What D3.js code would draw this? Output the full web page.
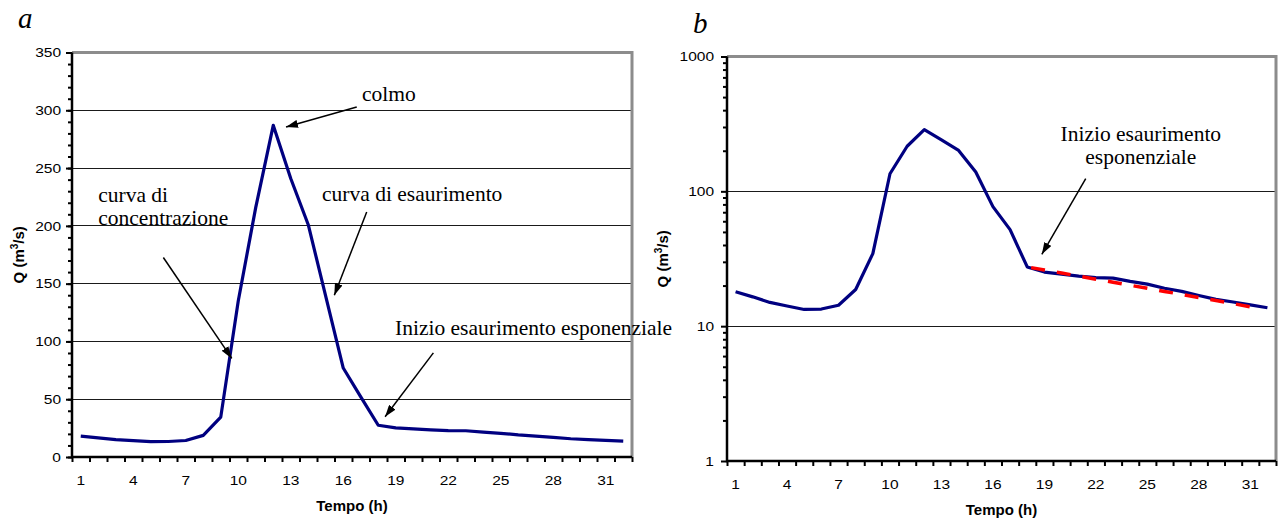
<!DOCTYPE html>
<html>
<head>
<meta charset="utf-8">
<script src="https://cdn.jsdelivr.net/npm/d3@7"></script>
<style>
  body { margin: 0; background: #fff; }
  svg { display: block; }
  .tick-label { font-family: 'Liberation Sans', Arial, sans-serif; font-size: 13.5px; fill: #000; }
  .axis-title { font-family: 'Liberation Sans', Arial, sans-serif; font-size: 15px; font-weight: bold; fill: #000; }
  .note { font-family: 'Liberation Serif', 'Times New Roman', serif; font-size: 21.5px; fill: #000; }
  .panel { font-family: 'Liberation Serif', 'Times New Roman', serif; font-size: 29px; font-style: italic; fill: #000; }
</style>
</head>
<body>
<svg id="chart" width="1279" height="518"></svg>
<script>
// hourly discharge of the flood event (m3/s)
var hours = [1, 2, 3, 4, 5, 6, 7, 8, 9, 10, 11, 12, 13, 14, 15, 16,
  17, 18, 19, 20, 21, 22, 23, 24, 25, 26, 27, 28, 29, 30, 31, 32];
var discharge = [18, 16.5, 15, 14.1, 13.3, 13.4, 14.3, 18.7, 34.5, 135, 216, 287,
  241, 201, 139, 77, 52, 27.5, 25.2, 24.3, 23.5, 22.9, 22.7, 21.5, 20.5,
  19.1, 18.1, 16.9, 15.8, 15.1, 14.4, 13.7];

// exponential recession fitted on the tail (red dashed)
var fitHours = [18, 19, 20, 21, 22, 23, 24, 25, 26, 27, 28, 29, 30, 31];
var fitDischarge = [27.5, 26.1, 24.8, 23.5, 22.3, 21.2, 20.1, 19.1, 18.1, 17.2,
  16.3, 15.5, 14.7, 13.9];

var xTickLabels = [1, 4, 7, 10, 13, 16, 19, 22, 25, 28, 31];
var linTicks = [0, 50, 100, 150, 200, 250, 300, 350];
var logTicks = [1, 10, 100, 1000];

var svg = d3.select('#chart');
var labelStretch = 1.15;

svg.append('defs').append('marker')
  .attr('id', 'arrow')
  .attr('markerUnits', 'userSpaceOnUse')
  .attr('viewBox', '0 0 12 8')
  .attr('refX', 12)
  .attr('refY', 4)
  .attr('markerWidth', 12)
  .attr('markerHeight', 8)
  .attr('orient', 'auto')
  .append('path')
  .attr('d', 'M0,0 L12,4 L0,8 Z')
  .attr('fill', '#000');

function drawPanel(opt) {
  let x = d3.scaleBand().domain(hours).range([opt.left, opt.right]).padding(0);
  let bw = x.bandwidth();
  let cx = function(h) { return x.range()[0] + (h - 0.5) * bw; };
  let xb = d3.scaleLinear().domain([0, hours.length]).range([opt.left, opt.right]);
  let y = opt.y;

  // gridlines
  svg.append('g')
    .selectAll('line')
    .data(opt.majorTicks.slice(1, -1))
    .join('line')
    .attr('x1', opt.left)
    .attr('x2', opt.right)
    .attr('y1', function(d) { return y(d); })
    .attr('y2', function(d) { return y(d); })
    .attr('stroke', '#1a1a1a')
    .attr('stroke-width', 1)
    .attr('shape-rendering', 'crispEdges');

  // gray frame top/right
  svg.append('path')
    .attr('d', 'M' + opt.left + ',' + opt.top + 'H' + opt.right + 'V' + opt.bottom)
    .attr('fill', 'none')
    .attr('stroke', '#8c8c8c')
    .attr('stroke-width', 3);

  // minor y ticks
  let minor = svg.append('g')
    .attr('transform', 'translate(' + opt.left + ',0)')
    .call(d3.axisLeft(y).tickValues(opt.minorTicks).tickSize(4).tickFormat(''));
  minor.select('.domain').remove();
  minor.selectAll('line').attr('stroke', '#000').attr('stroke-width', 2);

  // major y ticks with labels
  let major = svg.append('g')
    .attr('transform', 'translate(' + opt.left + ',0)')
    .call(d3.axisLeft(y).tickValues(opt.majorTicks).tickSize(6).tickFormat(d3.format('d')));
  major.select('.domain').remove();
  major.selectAll('line').attr('stroke', '#000').attr('stroke-width', 2);
  major.selectAll('text')
    .attr('class', 'tick-label')
    .attr('x', -opt.labelGap / labelStretch)
    .attr('transform', 'scale(' + labelStretch + ',1)');

  // x boundary ticks
  let xt = svg.append('g')
    .attr('transform', 'translate(0,' + opt.bottom + ')')
    .call(d3.axisBottom(xb).tickValues(d3.range(0, hours.length + 1)).tickSize(5).tickFormat(''));
  xt.select('.domain').remove();
  xt.selectAll('line').attr('stroke', '#000').attr('stroke-width', 2);

  // x labels
  let xl = svg.append('g')
    .attr('transform', 'translate(0,' + opt.bottom + ')')
    .call(d3.axisBottom(x).tickValues(xTickLabels).tickSize(0).tickPadding(18));
  xl.select('.domain').remove();
  xl.selectAll('text')
    .attr('class', 'tick-label')
    .attr('transform', 'scale(' + labelStretch + ',1)');

  // black axis lines
  svg.append('path')
    .attr('d', 'M' + opt.left + ',' + opt.top + 'V' + opt.bottom + 'H' + opt.right)
    .attr('fill', 'none')
    .attr('stroke', '#000')
    .attr('stroke-width', 2.5);

  // discharge line
  let line = d3.line()
    .x(function(d) { return cx(d[0]); })
    .y(function(d) { return y(d[1]); });

  svg.append('path')
    .datum(d3.zip(hours, discharge))
    .attr('d', line)
    .attr('fill', 'none')
    .attr('stroke', '#000080')
    .attr('stroke-width', 3.2)
    .attr('stroke-linejoin', 'round');

  if (opt.showFit) {
    svg.append('path')
      .datum(d3.zip(fitHours, fitDischarge))
      .attr('d', line)
      .attr('fill', 'none')
      .attr('stroke', '#ff0000')
      .attr('stroke-width', 3.5)
      .attr('stroke-dasharray', '14,12')
      .attr('stroke-dashoffset', -4);
  }

  // arrows
  opt.arrows.forEach(function(a) {
    svg.append('line')
      .attr('x1', cx(a.from[0]))
      .attr('y1', y(a.from[1]))
      .attr('x2', cx(a.to[0]))
      .attr('y2', y(a.to[1]))
      .attr('stroke', '#000')
      .attr('stroke-width', 1.5)
      .attr('marker-end', 'url(#arrow)');
  });

  // notes
  opt.notes.forEach(function(n) {
    let t = svg.append('text')
      .attr('class', 'note')
      .attr('x', cx(n.at[0]))
      .attr('y', y(n.at[1]))
      .attr('text-anchor', n.anchor || 'start');
    n.lines.forEach(function(s, i) {
      t.append('tspan')
        .attr('x', cx(n.at[0]))
        .attr('dy', i === 0 ? 0 : 23)
        .text(s);
    });
  });

  // axis titles
  svg.append('text')
    .attr('class', 'axis-title')
    .attr('x', (opt.left + opt.right) / 2)
    .attr('y', opt.xTitleY)
    .attr('text-anchor', 'middle')
    .text('Tempo (h)');

  let yt = svg.append('text')
    .attr('class', 'axis-title')
    .attr('transform', 'translate(' + opt.yTitleX + ',' + (opt.top + opt.bottom) / 2 + ') rotate(-90)')
    .attr('text-anchor', 'middle');
  yt.append('tspan').text('Q (m');
  yt.append('tspan').attr('font-size', '10px').attr('dy', -6).text('3');
  yt.append('tspan').attr('dy', 6).text('/s)');

  svg.append('text')
    .attr('class', 'panel')
    .attr('x', opt.panelX)
    .attr('y', opt.panelY)
    .text(opt.panel);
}

drawPanel({
  panel: 'a',
  panelX: 18,
  panelY: 28,
  left: 72,
  right: 632,
  top: 52.5,
  bottom: 457,
  y: d3.scaleLinear().domain([0, 350]).range([457, 52.5]),
  majorTicks: linTicks,
  minorTicks: d3.range(0, 351, 10),
  labelGap: 11,
  xTitleY: 511,
  yTitleX: 24,
  showFit: false,
  arrows: [
    { from: [16.77, 302.8], to: [12.73, 285.5] },
    { from: [17.34, 212], to: [15.49, 140] },
    { from: [5.72, 172.6], to: [9.63, 85.3] },
    { from: [21.15, 90.1], to: [18.39, 34.8] }
  ],
  notes: [
    { at: [17.07, 307.7], lines: ['colmo'] },
    { at: [14.79, 221.3], lines: ['curva di esaurimento'] },
    { at: [2.0, 220.7], lines: ['curva di', 'concentrazione'] },
    { at: [18.96, 105.4], lines: ['Inizio esaurimento esponenziale'] }
  ]
});

drawPanel({
  panel: 'b',
  panelX: 693,
  panelY: 33,
  left: 727,
  right: 1276,
  top: 56.5,
  bottom: 461,
  y: d3.scaleLog().domain([1, 1000]).range([461, 56.5]),
  majorTicks: logTicks,
  minorTicks: [2, 3, 4, 5, 6, 7, 8, 9, 20, 30, 40, 50, 60, 70, 80, 90, 200, 300, 400, 500, 600, 700, 800, 900],
  labelGap: 13,
  xTitleY: 515,
  yTitleX: 668,
  showFit: true,
  arrows: [
    { from: [21.41, 124], to: [18.85, 34.1] }
  ],
  notes: [
    { at: [24.62, 236], lines: ['Inizio esaurimento', 'esponenziale'], anchor: 'middle' }
  ]
});
</script>
</body>
</html>
